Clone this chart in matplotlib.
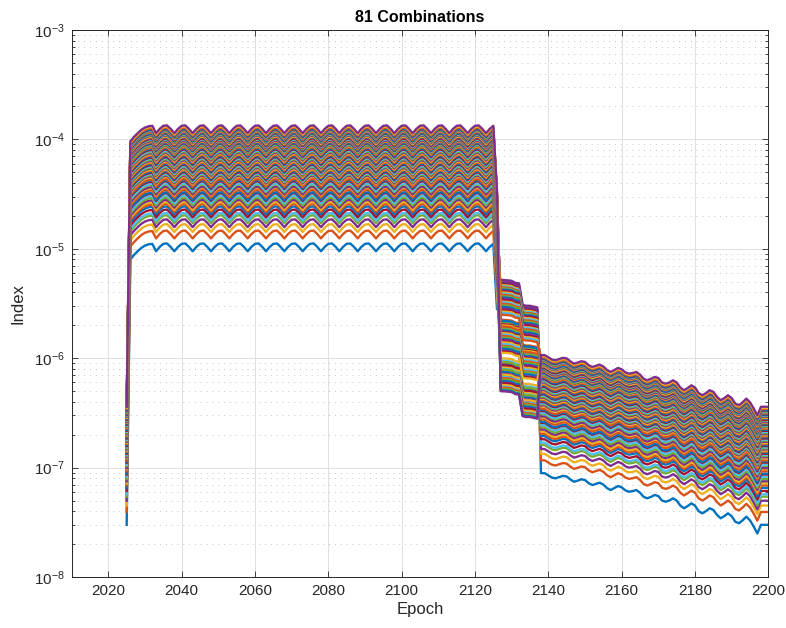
import numpy as np
import matplotlib
matplotlib.use("Agg")
import matplotlib.pyplot as plt
from matplotlib.ticker import LogLocator, NullFormatter, FixedLocator

plt.rcParams["font.family"] = ["Liberation Sans", "DejaVu Sans"]
plt.rcParams["mathtext.fontset"] = "custom"
plt.rcParams["mathtext.rm"] = "Liberation Sans"
plt.rcParams["mathtext.it"] = "Liberation Sans:italic"
plt.rcParams["mathtext.bf"] = "Liberation Sans:bold"

years = np.arange(2025, 2201)

# lowest run, in units of 1e-8, year by year
launch = [3.0]                                         # 2025
plateau = [800, 880, 950, 1020, 1070, 1100, 1110,      # 2026-2032
           950, 1040, 1110, 1120, 1040, 950, 1040, 1110, 1120, 1040,
           950, 1040, 1110, 1120, 1040, 950, 1040, 1110, 1120, 1040,
           950, 1040, 1110, 1120, 1040, 950, 1040, 1110, 1120, 1040,
           950, 1040, 1110, 1120, 1040, 950, 1040, 1110, 1120, 1040,
           950, 1040, 1110, 1120, 1040, 950, 1040, 1110, 1120, 1040,
           950, 1040, 1110, 1120, 1040, 950, 1040, 1110, 1120, 1040,
           950, 1040, 1110, 1120, 1040, 950, 1040, 1110, 1120, 1040,
           950, 1040, 1110, 1120, 1040, 950, 1040, 1110, 1120, 1040,
           950, 1040, 1110, 1120, 1040, 950, 1040, 1110, 1120, 1040,
           950, 1040, 1110]                            # 2123-2125
knee = [280]                                           # 2126
# 2127-2137, these use mid_scale instead of scale
mid = [500, 498, 495, 490, 470, 465, 295, 290, 290, 285, 280]
tail = [8.9, 8.9, 8.5, 8.1, 7.98, 8.2, 8.4, 8.3, 7.8,   # 2138-2146
        7.43, 7.6, 7.82, 7.7, 7.2, 6.93, 7.1, 7.28, 7.0, 6.5,
        6.24, 6.5, 6.79, 6.6, 6.2, 6.02, 6.1, 6.24, 5.9, 5.4,
        5.24, 5.4, 5.62, 5.5, 5.0, 4.88, 5.0, 5.24, 5.0, 4.5,
        4.25, 4.45, 4.71, 4.5, 4.0, 3.82, 4.0, 4.25, 4.1, 3.7,
        3.44, 3.6, 3.82, 3.6, 3.2, 3.1, 3.3, 3.56, 3.3, 2.9,
        2.5, 3.0, 3.0, 3.0]                            # 2197-2200

base = np.array(launch + plateau + knee + mid + tail) * 1e-8

# multiplier of each combination relative to the lowest run
scale = [1.00, 1.31, 1.50, 1.66, 1.81, 1.90, 2.04, 2.18, 2.29, 2.39,
         2.50, 2.62, 2.74, 2.88, 2.94, 3.09, 3.23, 3.30, 3.46, 3.54,
         3.70, 3.79, 3.88, 4.07, 4.16, 4.26, 4.35, 4.46, 4.56, 4.67,
         4.77, 4.89, 5.00, 5.11, 5.24, 5.35, 5.48, 5.61, 5.74, 5.88,
         6.01, 6.15, 6.30, 6.44, 6.59, 6.74, 6.90, 7.06, 7.23, 7.39,
         7.56, 7.74, 7.83, 7.92, 8.11, 8.20, 8.30, 8.49, 8.59, 8.69,
         8.89, 8.99, 9.10, 9.31, 9.42, 9.52, 9.71, 9.86, 10.0, 10.1,
         10.2, 10.44, 10.57, 10.67, 10.81, 10.95, 11.05, 11.19, 11.43, 11.71,
         12.0]

mid_scale = [0.97, 0.45, 0.20, 1.00, 0.43, 0.19, 0.95, 0.44, 0.18,
             0.93, 1.04, 0.185, 0.91, 0.41, 0.175, 0.89, 0.40, 0.17,
             0.87, 0.38, 0.173, 0.85, 0.39, 0.165, 0.83, 0.37, 0.16,
             0.82, 0.36, 0.155, 0.80, 0.35, 0.158, 0.78, 0.345, 0.15,
             0.76, 0.34, 0.145, 0.74, 0.33, 0.14, 0.72, 0.32, 0.142,
             0.70, 0.31, 0.135, 0.68, 0.30, 0.132, 0.66, 0.295, 0.128,
             0.65, 0.285, 0.124, 0.63, 0.28, 0.12, 0.61, 0.27, 0.118,
             0.59, 0.26, 0.114, 0.57, 0.255, 0.11, 0.55, 0.245, 0.108,
             0.535, 0.235, 0.105, 0.52, 0.23, 0.102, 0.50, 0.225, 0.10]

colors = ["#0072BD", "#D95319", "#EDB120", "#7E2F8E",
          "#77AC30", "#4DBEEE", "#A2142F"]

in_mid = (years >= 2127) & (years <= 2137)

fig = plt.figure(figsize=(7.86, 6.28), dpi=100)
ax = fig.add_axes([0.0912, 0.0812, 0.8863, 0.8710])

for i in range(len(scale)):
    y = base * np.where(in_mid, mid_scale[i], scale[i])
    ax.plot(years, y, color=colors[i % 7], lw=1.7)

ax.set_yscale("log")
ax.set_xlim(2010, 2200)
ax.set_ylim(1e-8, 1e-3)
ax.xaxis.set_major_locator(FixedLocator(np.arange(2020, 2201, 20)))
ax.yaxis.set_major_locator(LogLocator(base=10, numticks=10))
ax.yaxis.set_minor_locator(LogLocator(base=10, subs=np.arange(2, 10), numticks=20))
ax.yaxis.set_minor_formatter(NullFormatter())

ax.grid(which="major", color="#e0e0e0", lw=0.7, ls="-")
ax.grid(which="minor", axis="y", color="#c4c4c4", lw=0.7, ls=(0, (1, 5)))
ax.set_axisbelow(True)

for s in ax.spines.values():
    s.set_color("#262626")
    s.set_linewidth(0.7)
ax.tick_params(which="both", direction="in", top=True, right=True,
               colors="#262626", labelsize=11, width=0.6)
ax.tick_params(which="major", length=4.5, pad=5)
ax.tick_params(which="minor", length=2.5)

ax.set_xlabel("Epoch", fontsize=12, color="#262626", labelpad=3)
ax.set_ylabel("Index", fontsize=12, color="#262626", labelpad=6)
ax.set_title("81 Combinations", fontsize=11.5, fontweight="bold", color="black", pad=6)

fig.savefig("out.png", dpi=100)
